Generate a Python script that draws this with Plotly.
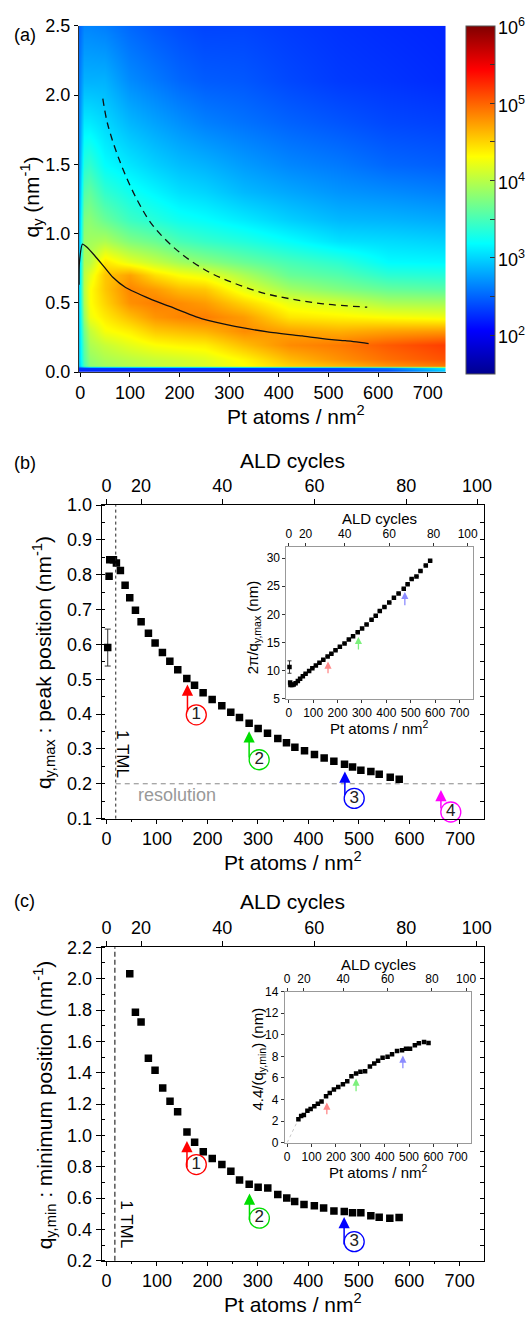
import plotly.graph_objects as go

FONT = "Liberation Sans, Arial, sans-serif"
W, H = 532, 1324

# ---------------- data ----------------
# (a) map: log10(intensity) read from the colour map, one list per Pt-coverage column
hm_x = [-3, 8, 20, 50, 100, 150, 200, 250, 330, 420, 520, 620, 736]
hm_q = [0.00, 0.03, 0.045, 0.10, 0.20, 0.30, 0.40, 0.50, 0.60, 0.70, 0.80, 0.95, 1.10, 1.30, 1.50, 1.80, 2.10, 2.50]
col_m3 = [2.2, 2.3, 2.9, 2.95, 2.95, 2.95, 2.95, 2.95, 2.95, 2.9, 2.9, 2.85, 2.8, 2.75, 2.7, 2.65, 2.6, 2.5]
col_8 = [2.2, 2.3, 3.5, 3.55, 3.6, 3.7, 3.85, 3.95, 4.0, 4.0, 3.95, 3.85, 3.75, 3.55, 3.35, 3.1, 2.85, 2.65]
col_20 = [2.2, 2.3, 3.8, 3.85, 3.95, 4.05, 4.25, 4.3, 4.3, 4.2, 4.0, 3.9, 3.8, 3.62, 3.4, 3.1, 2.85, 2.65]
col_50 = [2.2, 2.3, 3.9, 3.95, 4.07, 4.28, 4.4, 4.5, 4.56, 4.56, 4.42, 3.95, 3.65, 3.4, 3.19, 3.02, 2.85, 2.62]
col_100 = [2.2, 2.3, 3.98, 4.02, 4.2, 4.38, 4.6, 4.8, 4.85, 4.72, 4.2, 3.75, 3.45, 3.25, 3.08, 2.87, 2.68, 2.52]
col_150 = [2.2, 2.3, 4.05, 4.08, 4.3, 4.55, 4.78, 4.88, 4.75, 4.45, 4.05, 3.65, 3.35, 3.15, 2.98, 2.78, 2.6, 2.45]
col_200 = [2.2, 2.3, 4.1, 4.12, 4.35, 4.6, 4.85, 4.82, 4.6, 4.3, 3.9, 3.5, 3.25, 3.05, 2.9, 2.7, 2.52, 2.4]
col_250 = [2.2, 2.3, 4.15, 4.18, 4.38, 4.65, 4.88, 4.75, 4.55, 4.22, 3.8, 3.42, 3.2, 3.0, 2.85, 2.63, 2.47, 2.36]
col_330 = [2.2, 2.3, 4.3, 4.35, 4.6, 4.82, 4.75, 4.5, 4.2, 3.95, 3.65, 3.33, 3.1, 2.88, 2.75, 2.57, 2.45, 2.36]
col_420 = [2.2, 2.35, 4.5, 4.62, 4.82, 4.72, 4.42, 4.22, 3.9, 3.65, 3.5, 3.2, 2.98, 2.8, 2.66, 2.5, 2.38, 2.32]
col_520 = [2.25, 2.4, 4.62, 4.8, 4.9, 4.66, 4.36, 4.12, 3.75, 3.55, 3.38, 3.06, 2.88, 2.72, 2.6, 2.44, 2.32, 2.28]
col_620 = [2.3, 2.6, 4.78, 4.95, 5.04, 4.72, 4.3, 3.95, 3.63, 3.38, 3.18, 3.03, 2.86, 2.68, 2.52, 2.38, 2.29, 2.25]
col_736 = [2.9, 3.1, 4.9, 5.08, 5.17, 4.75, 4.25, 3.92, 3.58, 3.35, 3.16, 2.99, 2.82, 2.63, 2.48, 2.35, 2.25, 2.22]
cbar_decades = [2, 3, 4, 5, 6]
Z_MIN, Z_MAX = 1.5, 6.0

# (a) lines: peak position (solid) and minimum position (dashed)
a_peak_x = [-2.5, -1.8, 4.5, 12.4, 28.8, 48.5, 65.6, 91.3, 140.6, 180, 245.8, 311.6, 377.3, 446.9, 500.5, 533.9, 580.8]
a_peak_q = [0.63, 0.79, 0.924, 0.905, 0.842, 0.758, 0.685, 0.611, 0.529, 0.474, 0.384, 0.330, 0.291, 0.261, 0.237, 0.227, 0.206]
a_min_x = [45.4, 55.2, 81.5, 114.4, 147.1, 199.8, 259, 311.6, 370.8, 423.3, 489, 578]
a_min_q = [1.974, 1.789, 1.505, 1.244, 1.054, 0.865, 0.723, 0.640, 0.569, 0.529, 0.493, 0.469]

# top axis: ALD cycles vs Pt atoms / nm^2
ald_cycles = ["0", "20", "40", "60", "80", "100"]
ald_pt = [0, 68.6, 229.5, 412, 594, 734]

# (b) peak position
b_x = [2.6, 5.3, 6.6, 13.9, 19.8, 27.7, 37.0, 46.2, 57.5, 68.7, 83.2, 96.4, 110.9, 125.6, 141.3,
       159.2, 174.5, 191.5, 209.4, 228.5, 246.3, 263.5, 282.6, 300.5, 319.0, 339.4, 356.6, 373.2,
       392.3, 412.0, 431.2, 450.4, 471.5, 487.4, 503.9, 523.7, 540.2, 562.0, 579.8]
b_q = [0.591, 0.796, 0.843, 0.843, 0.834, 0.812, 0.770, 0.734, 0.698, 0.665, 0.632, 0.604, 0.577,
       0.552, 0.527, 0.502, 0.483, 0.461, 0.442, 0.424, 0.405, 0.390, 0.374, 0.359, 0.345, 0.330,
       0.318, 0.305, 0.295, 0.284, 0.274, 0.265, 0.256, 0.248, 0.239, 0.235, 0.227, 0.219, 0.213]
b_err = [0.053] + [None] * 38
# (b) inset: 2pi/q_y,max (nm)
bi_d = [10.63, 7.89, 7.45, 7.45, 7.53, 7.74, 8.16, 8.56, 9.00, 9.45, 9.94, 10.40, 10.89, 11.38,
        11.92, 12.52, 13.01, 13.63, 14.22, 14.82, 15.51, 16.11, 16.80, 17.50, 18.21, 19.04, 19.76,
        20.60, 21.30, 22.12, 22.93, 23.71, 24.54, 25.34, 26.29, 26.74, 27.68, 28.69, 29.50]
bi_err = [1.1] + [None] * 38

# (c) minimum position
c_x = [46.1, 57.3, 68.5, 83.0, 96.2, 111.4, 125.9, 141.0, 159.5, 174.7, 191.8, 209.6, 228.7, 246.5,
       263.7, 282.8, 300.6, 319.7, 339.5, 357.3, 373.0, 391.5, 412.0, 430.4, 450.8, 471.3, 487.7,
       504.2, 524.0, 540.5, 561.6, 580.0]
c_q = [2.032, 1.785, 1.723, 1.492, 1.415, 1.302, 1.218, 1.151, 1.021, 0.956, 0.895, 0.853, 0.814,
       0.772, 0.715, 0.688, 0.669, 0.665, 0.623, 0.600, 0.579, 0.560, 0.552, 0.537, 0.518, 0.514,
       0.506, 0.506, 0.487, 0.478, 0.472, 0.476]
# (c) inset: 4.4/q_y,min (nm)
ci_d = [2.17, 2.46, 2.55, 2.95, 3.11, 3.38, 3.61, 3.82, 4.31, 4.60, 4.92, 5.16, 5.41, 5.70, 6.15,
        6.40, 6.58, 6.62, 7.06, 7.33, 7.60, 7.86, 7.97, 8.19, 8.49, 8.56, 8.70, 8.70, 9.03, 9.21,
        9.32, 9.24]
ci_guide_x = [0, 46.1]
ci_guide_d = [0, 2.17]

# reference lines
tml_b = 18.5
tml_c = 16.5
resolution_q = 0.2

# arrows: x, head, tail
arr_b_x = [160.5, 282.6, 472.2, 662.4]
arr_b_head = [0.485, 0.351, 0.235, 0.182]
arr_b_tail = [0.403, 0.271, 0.163, 0.125]
circ_b_x = [178, 302.5, 490.7, 682]
circ_b_y = [0.398, 0.269, 0.158, 0.119]
arr_colors = ["#ff0000", "#00dd00", "#0000ff", "#ff00ff"]
circ_labels = ["1", "2", "3", "4"]

arr_bi_x = [160.7, 285.5, 476]
arr_bi_head = [11.6, 15.98, 23.98]
arr_bi_tail = [9.26, 13.47, 21.35]

arr_c_x = [159.5, 283.4, 471]
arr_c_head = [0.964, 0.629, 0.479]
arr_c_tail = [0.786, 0.451, 0.294]
circ_c_x = [178, 303, 491]
circ_c_y = [0.814, 0.472, 0.322]

arr_ci_x = [162.7, 282.7, 474.7]
arr_ci_head = [3.71, 5.94, 8.07]
arr_ci_tail = [2.5, 4.63, 6.76]
light_colors = ["#ff8a8a", "#7cf07c", "#8c8cff"]

# ---------------- geometry helpers ----------------
def fx(p):
    return p / W


def fy(p):
    return 1 - p / H


A_X, A_Y = [fx(77.4), fx(452.0)], [fy(367.7), fy(16.0)]
B_X, B_Y = [fx(100.7), fx(491.3)], [fy(821.0), fy(502.7)]
BI_X, BI_Y = [fx(289.4), fx(479.5)], [fy(699.3), fy(545.0)]
C_X, C_Y = [fx(100.8), fx(491.0)], [fy(1270.0), fy(951.7)]
CI_X, CI_Y = [fx(287.7), fx(477.8)], [fy(1150.0), fy(996.7)]
CB_TOP, CB_BOT = 16.0, 369.0
XR_MAIN = [-9.5, 748]
XR_IN = [-10, 754]

jet = [[0.0, "rgb(0,0,143)"], [0.125, "rgb(0,0,255)"], [0.375, "rgb(0,255,255)"],
       [0.625, "rgb(255,255,0)"], [0.875, "rgb(255,0,0)"], [1.0, "rgb(128,0,0)"]]

hm_cols = [col_m3, col_8, col_20, col_50, col_100, col_150, col_200, col_250, col_330,
           col_420, col_520, col_620, col_736]
hm_z = [list(row) for row in zip(*hm_cols)]

cb_vals = []
for d in cbar_decades:
    cb_vals.append(d)
    if d < cbar_decades[-1]:
        cb_vals.append(d + 0.5)

fig = go.Figure()

fig.add_trace(go.Heatmap(
    x=hm_x, y=hm_q, z=hm_z, xaxis="x", yaxis="y", zsmooth="best",
    colorscale=jet, zmin=Z_MIN, zmax=Z_MAX, hoverinfo="skip",
    colorbar=dict(
        x=fx(472.7), xanchor="left", y=fy(CB_TOP), yanchor="top",
        thickness=28.6, thicknessmode="pixels", len=(CB_BOT - CB_TOP) / H, lenmode="fraction",
        xpad=0, ypad=0, outlinewidth=1, outlinecolor="#555",
        tickmode="array", tickvals=cb_vals, showticklabels=False,
        ticks="inside", ticklen=5, tickcolor="#333",
    ),
))
fig.add_trace(go.Scatter(x=a_peak_x, y=a_peak_q, xaxis="x", yaxis="y", mode="lines",
                         line=dict(color="#111", width=1.3, shape="spline", smoothing=0.6),
                         hoverinfo="skip", showlegend=False))
fig.add_trace(go.Scatter(x=a_min_x, y=a_min_q, xaxis="x", yaxis="y", mode="lines",
                         line=dict(color="#111", width=1.3, dash="7px,5px", shape="spline"),
                         hoverinfo="skip", showlegend=False))

sq = dict(symbol="square", color="black", size=7.5)
fig.add_trace(go.Scatter(x=b_x, y=b_q, xaxis="x2", yaxis="y2", mode="markers", marker=sq,
                         error_y=dict(type="data", array=b_err, visible=True, color="#333",
                                      thickness=1, width=3),
                         showlegend=False))
fig.add_trace(go.Scatter(x=b_x, y=bi_d, xaxis="x4", yaxis="y4", mode="markers",
                         marker=dict(symbol="square", color="black", size=4.5),
                         error_y=dict(type="data", array=bi_err, visible=True, color="#333",
                                      thickness=1, width=2),
                         showlegend=False))
fig.add_trace(go.Scatter(x=c_x, y=c_q, xaxis="x6", yaxis="y6", mode="markers", marker=sq,
                         showlegend=False))
fig.add_trace(go.Scatter(x=ci_guide_x, y=ci_guide_d, xaxis="x8", yaxis="y8", mode="lines",
                         line=dict(color="#c8c8c8", width=1, dash="dot"), showlegend=False))
fig.add_trace(go.Scatter(x=c_x, y=ci_d, xaxis="x8", yaxis="y8", mode="markers",
                         marker=dict(symbol="square", color="black", size=4.5), showlegend=False))

# invisible traces that attach the secondary (top / right) axes so they get drawn
for xa, ya, xs, ys in [("x3", "y2", b_x, b_q), ("x2", "y3", b_x, b_q),
                       ("x5", "y4", b_x, bi_d), ("x7", "y6", c_x, c_q),
                       ("x6", "y7", c_x, c_q), ("x9", "y8", c_x, ci_d)]:
    fig.add_trace(go.Scatter(x=xs, y=ys, xaxis=xa, yaxis=ya, mode="none",
                             hoverinfo="skip", showlegend=False))

# numbered circles
fig.add_trace(go.Scatter(x=circ_b_x, y=circ_b_y, xaxis="x2", yaxis="y2", mode="markers+text",
                         text=circ_labels, textposition="middle center",
                         textfont=dict(family=FONT, size=17, color="#222"),
                         marker=dict(symbol="circle-open", size=20, color=arr_colors,
                                     line=dict(width=1.3)),
                         cliponaxis=False, showlegend=False))
fig.add_trace(go.Scatter(x=circ_c_x, y=circ_c_y, xaxis="x6", yaxis="y6", mode="markers+text",
                         text=circ_labels[:3], textposition="middle center",
                         textfont=dict(family=FONT, size=17, color="#222"),
                         marker=dict(symbol="circle-open", size=20, color=arr_colors[:3],
                                     line=dict(width=1.3)),
                         cliponaxis=False, showlegend=False))


def ax_style(**kw):
    base = dict(showgrid=False, zeroline=False, showline=True, linecolor="black", linewidth=1,
                ticks="outside", tickcolor="black", tickwidth=1, ticklen=4,
                tickfont=dict(family=FONT, size=18, color="black"))
    base.update(kw)
    return base


def in_style(**kw):
    base = ax_style(linecolor="#999", ticklen=3, tickcolor="#333",
                    tickfont=dict(family=FONT, size=12, color="black"))
    base.update(kw)
    return base


layout = dict(
    width=W, height=H, margin=dict(l=0, r=0, t=0, b=0),
    paper_bgcolor="white", plot_bgcolor="white", showlegend=False,
    font=dict(family=FONT, color="black"),
    xaxis=ax_style(domain=A_X, anchor="y", range=[-3, 736], tick0=0, dtick=100, linecolor="#333"),
    yaxis=ax_style(domain=A_Y, anchor="x", range=[0, 2.5], dtick=0.5, tickformat=".1f",
                   linecolor="#333"),
    # (b)
    xaxis2=ax_style(domain=B_X, anchor="y2", range=XR_MAIN, tick0=0, dtick=100,
                    minor=dict(dtick=50, ticks="outside", ticklen=2.5, tickcolor="black")),
    yaxis2=ax_style(domain=B_Y, anchor="x2", range=[0.1, 1.0], dtick=0.1, tickformat=".1f",
                    ticklen=5, minor=dict(dtick=0.05, ticks="inside", ticklen=3, tickcolor="black")),
    xaxis3=ax_style(overlaying="x2", anchor="y2", side="top", range=XR_MAIN, tickmode="array",
                    tickvals=ald_pt, ticktext=ald_cycles, ticklen=5),
    yaxis3=ax_style(overlaying="y2", anchor="x2", side="right", range=[0.1, 1.0], tick0=0.1,
                    dtick=0.05, ticks="inside", ticklen=4, showticklabels=False),
    xaxis4=in_style(domain=BI_X, anchor="y4", range=XR_IN, tick0=0, dtick=100),
    yaxis4=in_style(domain=BI_Y, anchor="x4", range=[5, 32], tick0=5, dtick=5, mirror=True),
    xaxis5=in_style(overlaying="x4", anchor="y4", side="top", range=XR_IN, tickmode="array",
                    tickvals=ald_pt, ticktext=ald_cycles),
    # (c)
    xaxis6=ax_style(domain=C_X, anchor="y6", range=XR_MAIN, tick0=0, dtick=100,
                    minor=dict(dtick=50, ticks="outside", ticklen=2.5, tickcolor="black")),
    yaxis6=ax_style(domain=C_Y, anchor="x6", range=[0.2, 2.2], dtick=0.2, tickformat=".1f",
                    ticklen=5, minor=dict(dtick=0.1, ticks="inside", ticklen=3, tickcolor="black")),
    xaxis7=ax_style(overlaying="x6", anchor="y6", side="top", range=XR_MAIN, tickmode="array",
                    tickvals=ald_pt, ticktext=ald_cycles, ticklen=5),
    yaxis7=ax_style(overlaying="y6", anchor="x6", side="right", range=[0.2, 2.2], tick0=0.2,
                    dtick=0.1, ticks="inside", ticklen=4, showticklabels=False),
    xaxis8=in_style(domain=CI_X, anchor="y8", range=XR_IN, tick0=0, dtick=100),
    yaxis8=in_style(domain=CI_Y, anchor="x8", range=[0, 14], tick0=0, dtick=2, mirror=True),
    xaxis9=in_style(overlaying="x8", anchor="y8", side="top", range=XR_IN, tickmode="array",
                    tickvals=ald_pt, ticktext=ald_cycles),
)
fig.update_layout(**layout)

ann = []


def text(x, y, s, size, angle=0, color="black", xref="paper", yref="paper", xanchor="center"):
    ann.append(dict(x=x, y=y, xref=xref, yref=yref, text=s, showarrow=False, textangle=angle,
                    xanchor=xanchor, yanchor="middle",
                    font=dict(family=FONT, size=size, color=color)))


# colour-bar labels (decades of intensity)
for d in cbar_decades:
    ypix = CB_BOT - (d - Z_MIN) / (Z_MAX - Z_MIN) * (CB_BOT - CB_TOP)
    text(fx(503.0), fy(ypix + 1), "10<sup>%d</sup>" % d, 18, xanchor="left")

# panel labels
text(fx(22), fy(25), "(a)", 18)
text(fx(22), fy(460), "(b)", 18)
text(fx(22), fy(905), "(c)", 18)
# axis titles
text(fx(299), fy(411), "Pt atoms / nm<sup>2</sup>", 21)
text(fx(29), fy(190), "q<sub>y</sub> (nm<sup>-1</sup>)", 21, -90)
text(fx(296), fy(457), "ALD cycles", 21)
text(fx(296), fy(864), "Pt atoms / nm<sup>2</sup>", 21)
text(fx(42), fy(663), "q<sub>y,max</sub> : peak position (nm<sup>-1</sup>)", 21, -90)
text(fx(296), fy(905), "ALD cycles", 21)
text(fx(296), fy(1313), "Pt atoms / nm<sup>2</sup>", 21)
text(fx(42), fy(1112), "q<sub>y,min</sub> : minimum position (nm<sup>-1</sup>)", 21, -90)
# inset titles
text(fx(384), fy(516), "ALD cycles", 15)
text(fx(384), fy(728), "Pt atoms / nm<sup>2</sup>", 15)
text(fx(256), fy(627), "2\u03c0/q<sub>y,max</sub> (nm)", 15, -90)
text(fx(383), fy(969), "ALD cycles", 15)
text(fx(383), fy(1179), "Pt atoms / nm<sup>2</sup>", 15)
text(fx(261), fy(1065), "4.4/(q<sub>y,min</sub>) (nm)", 15, -90)
# in-plot labels
text(33, 0.285, "1 TML", 17, 90, xref="x2", yref="y2")
text(139, 0.168, "resolution", 18, 0, "#999", xref="x2", yref="y2")
text(39.5, 0.43, "1 TML", 17, 90, xref="x6", yref="y6")


def arrows(xs, heads, tails, colors, xr, yr, width, size):
    for x, h, t, c in zip(xs, heads, tails, colors):
        ann.append(dict(x=x, y=h, ax=x, ay=t, xref=xr, yref=yr, axref=xr, ayref=yr, text="",
                        showarrow=True, arrowhead=2, arrowsize=size, arrowwidth=width,
                        arrowcolor=c, standoff=0, startstandoff=0))


arrows(arr_b_x, arr_b_head, arr_b_tail, arr_colors, "x2", "y2", 1.5, 1.5)
arrows(arr_c_x, arr_c_head, arr_c_tail, arr_colors, "x6", "y6", 1.5, 1.5)
arrows(arr_bi_x, arr_bi_head, arr_bi_tail, light_colors, "x4", "y4", 1.3, 1.1)
arrows(arr_ci_x, arr_ci_head, arr_ci_tail, light_colors, "x8", "y8", 1.3, 1.1)

shapes = [
    dict(type="line", xref="x2", yref="y2 domain", x0=tml_b, x1=tml_b, y0=0, y1=1,
         line=dict(color="#222", width=1, dash="dot")),
    dict(type="line", xref="x2", yref="y2", x0=tml_b, x1=XR_MAIN[1], y0=resolution_q,
         y1=resolution_q, line=dict(color="#888", width=1, dash="5px,4px")),
    dict(type="line", xref="x6", yref="y6 domain", x0=tml_c, x1=tml_c, y0=0, y1=1,
         line=dict(color="#555", width=1.5, dash="5px,3px")),
]
fig.update_layout(annotations=ann, shapes=shapes)

# the page's default body margin would shift the 532x1324 figure and clip its right edge
fig.write_html("out.html", config={"displayModeBar": False},
               post_script="document.body.style.margin='0';document.body.style.overflow='hidden';")
